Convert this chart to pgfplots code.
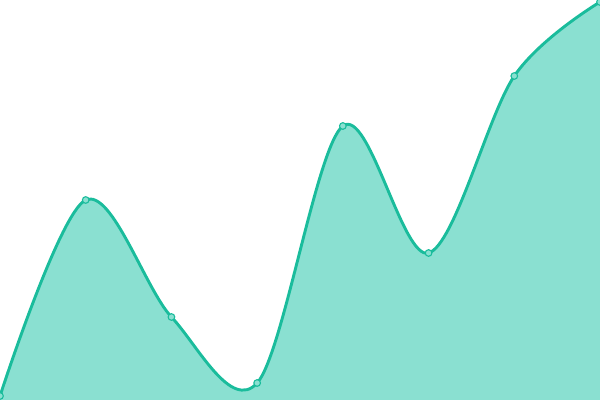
\documentclass[border=0pt]{standalone}
\usepackage{pgfplots}
\pgfplotsset{compat=1.18}
\definecolor{teal1}{HTML}{1ABC9C}
\definecolor{tealfill}{HTML}{8AE0D1}
\begin{document}
\begin{tikzpicture}
\begin{axis}[scale only axis, width=6in, height=4in, hide axis,
  xmin=0, xmax=7, ymin=0, ymax=400, clip=false]
  \addplot[draw=none, fill=tealfill, smooth, tension=0.55] coordinates {
    (0,4) (1,200) (2,83) (3,17) (4,274) (5,147) (6,324) (7,398)
  } \closedcycle;
  \addplot[teal1, line width=2.1pt, smooth, tension=0.55,
    mark=*, mark size=2.4pt, mark options={fill=tealfill, draw=teal1, line width=0.8pt}] coordinates {
    (0,4) (1,200) (2,83) (3,17) (4,274) (5,147) (6,324) (7,398)
  };
\end{axis}
\pgfresetboundingbox
\useasboundingbox (current axis.south west) rectangle (current axis.north east);
\end{tikzpicture}
\end{document}
